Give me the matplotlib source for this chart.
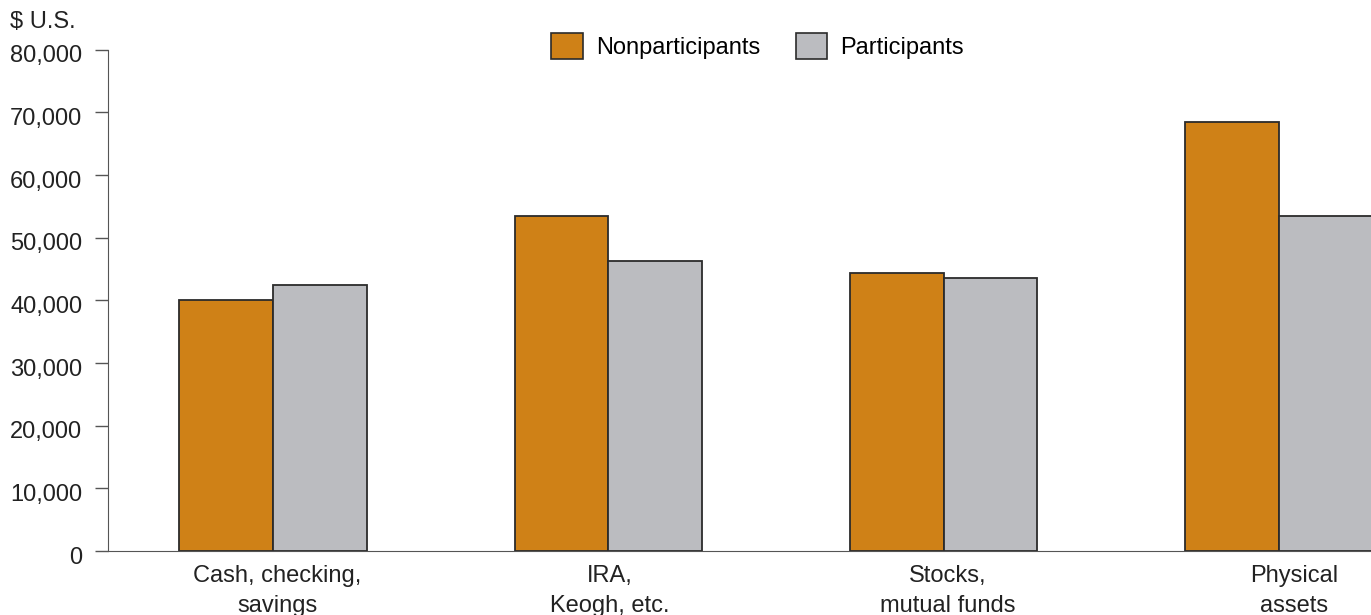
import matplotlib
matplotlib.use("Agg")
import matplotlib.pyplot as plt
import matplotlib.transforms as mtransforms
from matplotlib.patches import Patch
import numpy as np

# data
categories = ["Cash, checking,\nsavings", "IRA,\nKeogh, etc.", "Stocks,\nmutual funds", "Physical\nassets"]
nonparticipants = [40100, 53500, 44300, 68400]
participants = [42400, 46200, 43500, 53500]
yticks = [0, 10000, 20000, 30000, 40000, 50000, 60000, 70000, 80000]

ORANGE = "#CF8117"
GRAY = "#BBBCC0"
EDGE = "#2b2b2b"

plt.rcParams["font.family"] = ["Liberation Sans", "DejaVu Sans"]
plt.rcParams["font.size"] = 17

fig = plt.figure(figsize=(13.71, 6.15), dpi=100)
ax = fig.add_axes([108 / 1371, 64 / 615, 1 - 108 / 1371, (551 - 49.5) / 615])

x = np.arange(len(categories))
width = 0.279
ax.bar(x - width / 2, nonparticipants, width, color=ORANGE, edgecolor=EDGE, linewidth=1.3)
ax.bar(x + width / 2, participants, width, color=GRAY, edgecolor=EDGE, linewidth=1.3)

ax.set_xlim(-0.492, 3.275)
ax.set_ylim(0, 80000)
ax.set_yticks(yticks)
ax.set_yticklabels([f"{v:,}" for v in yticks])
ax.set_xticks(x)
ax.set_xticklabels(categories, linespacing=1.45)

for s in ["top", "right"]:
    ax.spines[s].set_visible(False)
ax.spines["left"].set_color("#555555")
ax.spines["bottom"].set_color("#555555")
ax.tick_params(axis="y", length=9.5, width=1, color="#555555", pad=9, labelcolor="#222222")
ax.tick_params(axis="x", length=0, pad=10, labelcolor="#222222")

# tick labels sit a little below their ticks in the original
offset = mtransforms.ScaledTranslation(0, -3 / 72, fig.dpi_scale_trans)
for lab in ax.get_yticklabels():
    lab.set_transform(lab.get_transform() + offset)

# last category label is pushed a bit right of its bars
xlabs = ax.get_xticklabels()
shift = [3, 1, 3, 11]
for lab, dx in zip(xlabs, shift):
    lab.set_transform(lab.get_transform() + mtransforms.ScaledTranslation(dx / 72, 0, fig.dpi_scale_trans))

fig.text(10 / 1371, 1 - 22 / 615, "$ U.S.", ha="left", va="center", color="#222222")

handles = [Patch(facecolor=ORANGE, edgecolor=EDGE, linewidth=1.2, label="Nonparticipants"),
           Patch(facecolor=GRAY, edgecolor=EDGE, linewidth=1.2, label="Participants")]
fig.legend(handles=handles, loc="center left", bbox_to_anchor=(551 / 1371, 1 - 46 / 615),
           ncol=2, frameon=False, handlelength=1.35, handleheight=1.35,
           handletextpad=0.55, columnspacing=1.5, borderpad=0, borderaxespad=0)

fig.savefig("out.png", dpi=100)
